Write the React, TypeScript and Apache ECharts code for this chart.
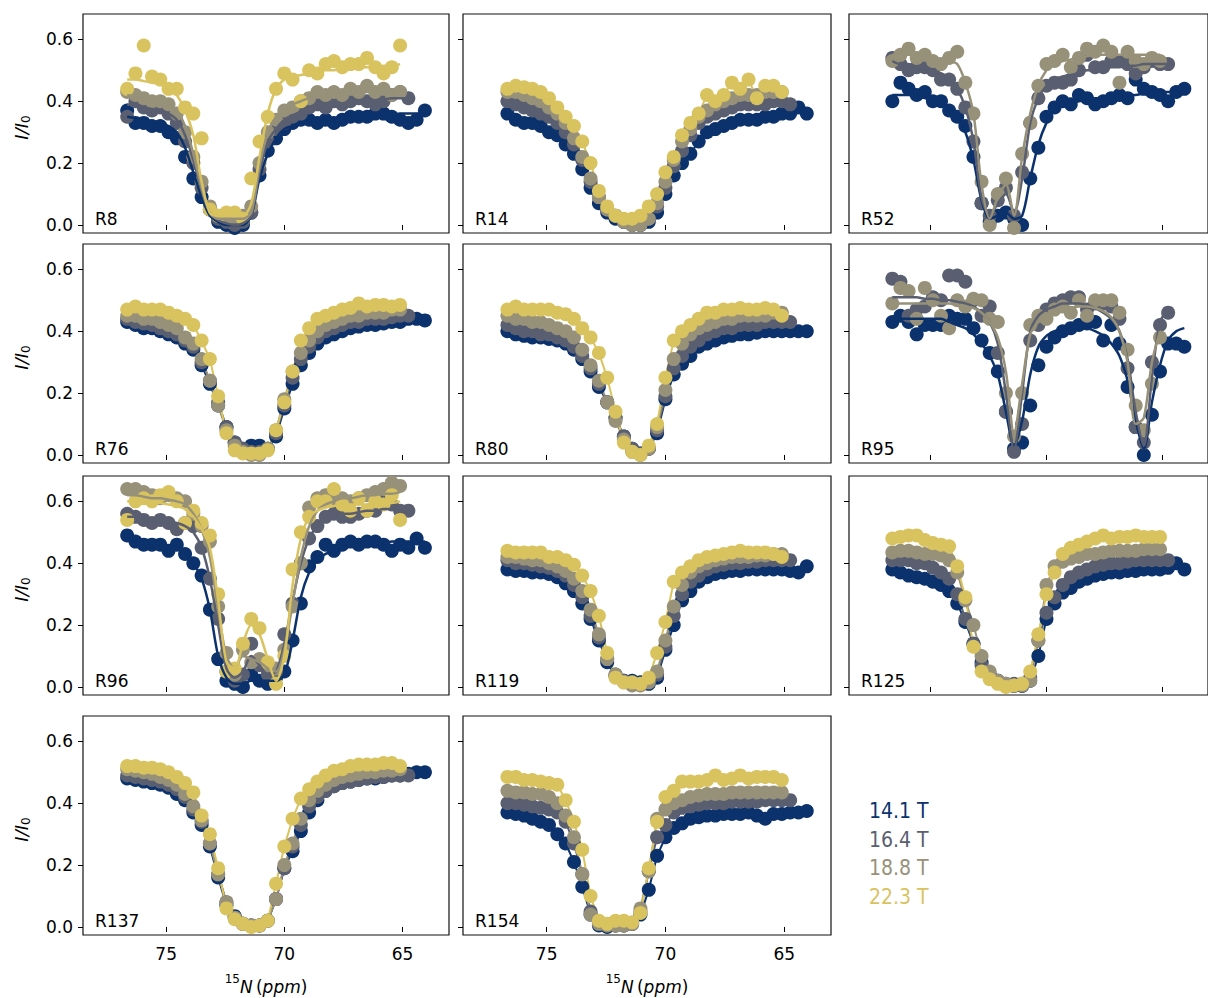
import React, { useEffect, useRef } from "react";
import * as echarts from "echarts";

// ---------- offsets (ppm) at which the CEST profiles were sampled ----------
const GRID_PPM = [76.65, 76.3, 75.95, 75.6, 75.25, 74.9, 74.55, 74.2, 73.85, 73.5, 73.15, 72.8, 72.45, 72.1, 71.75, 71.4, 71.05, 70.7, 70.35, 70.0, 69.65, 69.3, 68.95, 68.6, 68.25, 67.9, 67.55, 67.2, 66.85, 66.5, 66.15, 65.8, 65.45, 65.1, 64.75, 64.4, 64.05];

const FIELDS = ["14.1 T", "16.4 T", "18.8 T", "22.3 T"];
const COLORS = ["#0b326d", "#595f70", "#979179", "#d9c35f"];
const X_TICKS = [65, 70, 75];
const Y_TICKS = [0, 0.2, 0.4, 0.6];

// ---------- R8 ----------
const R8_141 = [0.37, 0.33, 0.33, 0.32, 0.32, 0.3, 0.28, 0.22, 0.15, 0.09, 0.05, 0.01, 0.0, -0.01, 0.0, 0.04, 0.16, 0.24, 0.28, 0.31, 0.33, 0.34, 0.34, 0.33, 0.34, 0.33, 0.34, 0.35, 0.35, 0.35, 0.36, 0.36, 0.35, 0.34, 0.33, 0.34, 0.37];
const R8_164 = [0.35, 0.4, 0.38, 0.37, 0.38, 0.36, 0.33, 0.27, 0.2, 0.12, 0.05, 0.02, 0.01, 0.0, 0.01, 0.04, 0.18, 0.27, 0.31, 0.33, 0.35, 0.36, 0.38, 0.39, 0.38, 0.4, 0.39, 0.4, 0.41, 0.4, 0.39, 0.4, 0.42, 0.43, 0.41];
const R8_188 = [0.43, 0.42, 0.41, 0.4, 0.4, 0.39, 0.36, 0.3, 0.22, 0.14, 0.06, 0.03, 0.02, 0.02, 0.03, 0.06, 0.2, 0.3, 0.34, 0.37, 0.38, 0.4, 0.41, 0.43, 0.42, 0.43, 0.42, 0.44, 0.43, 0.45, 0.43, 0.44, 0.42, 0.43];
const R8_223 = [0.44, 0.49, 0.58, 0.48, 0.47, 0.44, 0.44, 0.38, 0.36, 0.28, 0.05, 0.03, 0.04, 0.04, 0.02, 0.15, 0.27, 0.35, 0.44, 0.49, 0.47, 0.4, 0.5, 0.49, 0.52, 0.53, 0.51, 0.52, 0.52, 0.54, 0.51, 0.49, 0.51, 0.58];
const R8_141_FIT = [0.35, 0.345, 0.34, 0.335, 0.33, 0.32, 0.3, 0.25, 0.17, 0.09, 0.03, 0.01, 0.0, 0.0, 0.0, 0.03, 0.15, 0.23, 0.28, 0.31, 0.32, 0.33, 0.335, 0.34, 0.34, 0.345, 0.345, 0.35, 0.35, 0.35, 0.355, 0.355, 0.355, 0.36, 0.36, 0.36, 0.36];
const R8_164_FIT = [0.39, 0.385, 0.38, 0.375, 0.37, 0.36, 0.34, 0.29, 0.21, 0.11, 0.04, 0.015, 0.005, 0.0, 0.005, 0.03, 0.17, 0.27, 0.31, 0.34, 0.355, 0.365, 0.37, 0.38, 0.385, 0.39, 0.39, 0.395, 0.4, 0.4, 0.4, 0.405, 0.41, 0.41, 0.41];
const R8_188_FIT = [0.42, 0.415, 0.41, 0.405, 0.4, 0.39, 0.37, 0.32, 0.23, 0.12, 0.04, 0.02, 0.02, 0.02, 0.02, 0.04, 0.19, 0.3, 0.35, 0.38, 0.39, 0.4, 0.41, 0.415, 0.42, 0.42, 0.425, 0.43, 0.43, 0.43, 0.43, 0.435, 0.435, 0.44];
const R8_223_FIT = [0.47, 0.47, 0.465, 0.46, 0.455, 0.445, 0.42, 0.37, 0.29, 0.14, 0.04, 0.03, 0.03, 0.03, 0.03, 0.07, 0.22, 0.36, 0.44, 0.47, 0.48, 0.485, 0.49, 0.495, 0.5, 0.5, 0.505, 0.505, 0.51, 0.51, 0.51, 0.515, 0.515, 0.52];

// ---------- R14 ----------
const R14_141 = [0.36, 0.34, 0.33, 0.33, 0.32, 0.3, 0.29, 0.26, 0.23, 0.18, 0.12, 0.07, 0.04, 0.02, 0.01, 0.0, 0.0, 0.01, 0.04, 0.1, 0.16, 0.2, 0.23, 0.27, 0.3, 0.31, 0.32, 0.33, 0.34, 0.34, 0.34, 0.35, 0.35, 0.36, 0.36, 0.38, 0.36];
const R14_164 = [0.4, 0.39, 0.38, 0.37, 0.36, 0.35, 0.33, 0.3, 0.26, 0.21, 0.14, 0.09, 0.05, 0.03, 0.01, 0.0, 0.0, 0.02, 0.06, 0.12, 0.19, 0.24, 0.29, 0.33, 0.35, 0.36, 0.37, 0.38, 0.39, 0.39, 0.39, 0.39, 0.4, 0.4, 0.39];
const R14_188 = [0.43, 0.43, 0.42, 0.41, 0.4, 0.38, 0.36, 0.33, 0.28, 0.22, 0.15, 0.09, 0.05, 0.03, 0.01, 0.0, 0.0, 0.02, 0.07, 0.14, 0.21, 0.27, 0.31, 0.35, 0.37, 0.39, 0.4, 0.41, 0.42, 0.42, 0.42, 0.43, 0.43, 0.43];
const R14_223 = [0.44, 0.45, 0.445, 0.44, 0.43, 0.41, 0.38, 0.35, 0.32, 0.27, 0.2, 0.11, 0.06, 0.03, 0.02, 0.02, 0.03, 0.06, 0.1, 0.17, 0.22, 0.29, 0.33, 0.36, 0.42, 0.4, 0.42, 0.46, 0.44, 0.47, 0.41, 0.45, 0.45, 0.43];

// ---------- R52 ----------
const R52_141 = [0.4, 0.46, 0.44, 0.42, 0.43, 0.4, 0.4, 0.37, 0.35, 0.32, 0.22, 0.07, 0.01, 0.03, 0.04, 0.02, 0.0, 0.15, 0.25, 0.35, 0.38, 0.4, 0.39, 0.42, 0.41, 0.39, 0.4, 0.41, 0.42, 0.41, 0.47, 0.44, 0.43, 0.42, 0.4, 0.43, 0.44];
const R52_164 = [0.54, 0.52, 0.5, 0.51, 0.51, 0.5, 0.47, 0.47, 0.44, 0.38, 0.27, 0.07, 0.03, 0.08, 0.12, 0.03, 0.17, 0.33, 0.41, 0.45, 0.46, 0.46, 0.47, 0.5, 0.55, 0.51, 0.51, 0.53, 0.53, 0.52, 0.49, 0.51, 0.53, 0.52, 0.52];
const R52_188 = [0.53, 0.55, 0.57, 0.54, 0.55, 0.53, 0.52, 0.54, 0.56, 0.46, 0.36, 0.14, 0.0, 0.1, 0.15, -0.01, 0.23, 0.33, 0.45, 0.52, 0.53, 0.55, 0.51, 0.54, 0.57, 0.56, 0.58, 0.56, 0.46, 0.56, 0.53, 0.52, 0.54, 0.53];
const R52_141_FIT = [0.42, 0.42, 0.42, 0.415, 0.41, 0.4, 0.39, 0.37, 0.34, 0.3, 0.21, 0.08, 0.02, 0.03, 0.04, 0.02, 0.03, 0.15, 0.26, 0.33, 0.37, 0.385, 0.395, 0.4, 0.405, 0.41, 0.41, 0.415, 0.42, 0.42, 0.42, 0.425, 0.425, 0.43, 0.43, 0.43, 0.43];
const R52_164_FIT = [0.53, 0.52, 0.52, 0.51, 0.51, 0.5, 0.49, 0.47, 0.44, 0.38, 0.27, 0.09, 0.03, 0.07, 0.1, 0.04, 0.15, 0.33, 0.41, 0.45, 0.47, 0.48, 0.485, 0.49, 0.5, 0.5, 0.505, 0.51, 0.51, 0.515, 0.515, 0.52, 0.52, 0.52, 0.52];
const R52_188_FIT = [0.55, 0.55, 0.55, 0.545, 0.54, 0.54, 0.535, 0.53, 0.52, 0.46, 0.36, 0.13, 0.02, 0.09, 0.13, 0.03, 0.22, 0.36, 0.45, 0.5, 0.52, 0.53, 0.535, 0.54, 0.545, 0.55, 0.55, 0.55, 0.55, 0.55, 0.55, 0.55, 0.55, 0.55];

// ---------- R76 ----------
const R76_141 = [0.43, 0.42, 0.41, 0.41, 0.4, 0.39, 0.38, 0.36, 0.34, 0.29, 0.23, 0.16, 0.09, 0.04, 0.02, 0.03, 0.03, 0.02, 0.06, 0.15, 0.23, 0.29, 0.33, 0.36, 0.38, 0.39, 0.4, 0.41, 0.415, 0.42, 0.42, 0.425, 0.43, 0.43, 0.44, 0.44, 0.435];
const R76_164 = [0.44, 0.43, 0.425, 0.42, 0.41, 0.4, 0.39, 0.37, 0.35, 0.3, 0.24, 0.17, 0.09, 0.04, 0.02, 0.01, 0.01, 0.02, 0.07, 0.16, 0.25, 0.31, 0.35, 0.38, 0.4, 0.41, 0.42, 0.43, 0.43, 0.44, 0.44, 0.44, 0.445, 0.45, 0.45];
const R76_188 = [0.45, 0.45, 0.44, 0.44, 0.43, 0.42, 0.41, 0.38, 0.36, 0.31, 0.24, 0.16, 0.08, 0.03, 0.01, 0.0, 0.0, 0.02, 0.08, 0.18, 0.27, 0.33, 0.37, 0.4, 0.42, 0.43, 0.44, 0.45, 0.45, 0.46, 0.46, 0.46, 0.47, 0.47];
const R76_223 = [0.47, 0.48, 0.47, 0.47, 0.47, 0.46, 0.45, 0.44, 0.42, 0.37, 0.31, 0.19, 0.07, 0.015, 0.005, 0.005, 0.005, 0.015, 0.08, 0.17, 0.27, 0.37, 0.41, 0.44, 0.45, 0.46, 0.47, 0.475, 0.49, 0.48, 0.485, 0.485, 0.48, 0.485];

// ---------- R80 ----------
const R80_141 = [0.4, 0.39, 0.385, 0.38, 0.38, 0.375, 0.37, 0.36, 0.34, 0.31, 0.27, 0.22, 0.17, 0.12, 0.06, 0.02, 0.005, 0.02, 0.07, 0.18, 0.26, 0.295, 0.32, 0.35, 0.36, 0.37, 0.38, 0.385, 0.39, 0.39, 0.395, 0.4, 0.4, 0.4, 0.4, 0.4, 0.4];
const R80_164 = [0.42, 0.41, 0.4, 0.4, 0.39, 0.39, 0.38, 0.37, 0.35, 0.32, 0.28, 0.23, 0.17, 0.12, 0.06, 0.02, 0.005, 0.02, 0.08, 0.19, 0.28, 0.32, 0.35, 0.37, 0.39, 0.4, 0.41, 0.41, 0.42, 0.42, 0.42, 0.43, 0.43, 0.43, 0.43];
const R80_188 = [0.45, 0.44, 0.44, 0.43, 0.43, 0.42, 0.41, 0.4, 0.38, 0.34, 0.29, 0.24, 0.17, 0.11, 0.05, 0.01, 0.0, 0.02, 0.09, 0.21, 0.31, 0.36, 0.39, 0.41, 0.42, 0.43, 0.44, 0.44, 0.45, 0.45, 0.45, 0.45, 0.46, 0.46];
const R80_223 = [0.47, 0.48, 0.47, 0.47, 0.47, 0.47, 0.46, 0.455, 0.44, 0.41, 0.38, 0.33, 0.25, 0.14, 0.04, 0.01, 0.0, 0.03, 0.1, 0.25, 0.37, 0.4, 0.42, 0.44, 0.46, 0.46, 0.47, 0.47, 0.475, 0.47, 0.47, 0.475, 0.47, 0.45];

// ---------- R95 ----------
const R95_141 = [0.43, 0.45, 0.43, 0.39, 0.42, 0.42, 0.42, 0.45, 0.44, 0.44, 0.41, 0.37, 0.33, 0.27, 0.14, 0.02, 0.04, 0.16, 0.29, 0.35, 0.38, 0.4, 0.41, 0.42, 0.425, 0.43, 0.37, 0.42, 0.36, 0.22, 0.09, 0.0, 0.13, 0.27, 0.36, 0.36, 0.35];
const R95_164 = [0.57, 0.56, 0.45, 0.47, 0.48, 0.51, 0.5, 0.58, 0.58, 0.56, 0.5, 0.45, 0.48, 0.33, 0.14, 0.01, 0.1, 0.37, 0.42, 0.47, 0.49, 0.5, 0.51, 0.51, 0.47, 0.49, 0.49, 0.48, 0.44, 0.28, 0.09, 0.04, 0.3, 0.42, 0.46];
const R95_188 = [0.49, 0.54, 0.53, 0.44, 0.54, 0.5, 0.45, 0.41, 0.5, 0.48, 0.505, 0.5, 0.44, 0.43, 0.2, 0.06, 0.2, 0.42, 0.45, 0.44, 0.47, 0.48, 0.46, 0.5, 0.45, 0.5, 0.5, 0.5, 0.46, 0.34, 0.16, 0.08, 0.23, 0.38];
const R95_141_FIT = [0.44, 0.44, 0.44, 0.44, 0.44, 0.44, 0.44, 0.43, 0.42, 0.41, 0.39, 0.36, 0.32, 0.26, 0.14, 0.03, 0.11, 0.26, 0.35, 0.385, 0.4, 0.41, 0.415, 0.415, 0.41, 0.4, 0.385, 0.36, 0.32, 0.24, 0.11, 0.02, 0.17, 0.29, 0.37, 0.4, 0.41];
const R95_164_FIT = [0.51, 0.51, 0.51, 0.51, 0.505, 0.505, 0.5, 0.5, 0.495, 0.49, 0.48, 0.46, 0.43, 0.36, 0.2, 0.02, 0.2, 0.4, 0.45, 0.47, 0.48, 0.49, 0.49, 0.49, 0.485, 0.475, 0.46, 0.44, 0.4, 0.31, 0.14, 0.03, 0.25, 0.43, 0.47];
const R95_188_FIT = [0.49, 0.49, 0.49, 0.49, 0.49, 0.49, 0.49, 0.49, 0.485, 0.48, 0.475, 0.46, 0.43, 0.38, 0.27, 0.07, 0.23, 0.39, 0.43, 0.45, 0.46, 0.47, 0.475, 0.48, 0.48, 0.475, 0.465, 0.445, 0.4, 0.3, 0.1, 0.12, 0.3, 0.4];

// ---------- R96 ----------
const R96_141 = [0.49, 0.47, 0.46, 0.46, 0.46, 0.44, 0.46, 0.43, 0.4, 0.36, 0.25, 0.09, 0.02, 0.01, 0.0, 0.04, 0.02, 0.01, 0.03, 0.05, 0.15, 0.27, 0.39, 0.42, 0.46, 0.44, 0.46, 0.47, 0.46, 0.47, 0.47, 0.46, 0.44, 0.46, 0.45, 0.48, 0.45];
const R96_164 = [0.56, 0.55, 0.54, 0.53, 0.54, 0.53, 0.51, 0.53, 0.52, 0.45, 0.35, 0.22, 0.05, 0.02, 0.04, 0.14, 0.07, 0.04, 0.05, 0.17, 0.27, 0.4, 0.48, 0.52, 0.55, 0.56, 0.55, 0.55, 0.56, 0.57, 0.57, 0.61, 0.59, 0.57, 0.57];
const R96_188 = [0.64, 0.64, 0.63, 0.62, 0.61, 0.62, 0.61, 0.6, 0.56, 0.52, 0.47, 0.26, 0.11, 0.04, 0.12, 0.08, 0.09, 0.07, 0.06, 0.12, 0.26, 0.4, 0.58, 0.61, 0.62, 0.61, 0.61, 0.6, 0.61, 0.62, 0.63, 0.64, 0.66, 0.65];
const R96_223 = [0.54, 0.6, 0.61, 0.6, 0.62, 0.63, 0.6, 0.53, 0.57, 0.53, 0.49, 0.3, 0.05, 0.06, 0.14, 0.22, 0.19, 0.08, 0.01, 0.1, 0.38, 0.5, 0.55, 0.6, 0.6, 0.64, 0.59, 0.57, 0.61, 0.57, 0.6, 0.59, 0.62, 0.54];
const R96_141_FIT = [0.48, 0.475, 0.47, 0.465, 0.46, 0.455, 0.45, 0.43, 0.4, 0.35, 0.25, 0.1, 0.03, 0.01, 0.01, 0.02, 0.02, 0.02, 0.02, 0.04, 0.15, 0.29, 0.37, 0.41, 0.43, 0.44, 0.45, 0.455, 0.46, 0.46, 0.465, 0.465, 0.47, 0.47, 0.47, 0.47, 0.47];
const R96_164_FIT = [0.55, 0.55, 0.545, 0.54, 0.54, 0.535, 0.53, 0.52, 0.5, 0.45, 0.35, 0.2, 0.06, 0.03, 0.05, 0.1, 0.07, 0.04, 0.05, 0.14, 0.28, 0.4, 0.48, 0.52, 0.54, 0.55, 0.56, 0.56, 0.565, 0.57, 0.57, 0.575, 0.575, 0.58, 0.58];
const R96_188_FIT = [0.62, 0.62, 0.615, 0.61, 0.61, 0.605, 0.6, 0.59, 0.56, 0.51, 0.42, 0.25, 0.1, 0.06, 0.1, 0.09, 0.08, 0.06, 0.05, 0.12, 0.27, 0.42, 0.52, 0.57, 0.59, 0.6, 0.61, 0.61, 0.615, 0.62, 0.62, 0.625, 0.625, 0.63];
const R96_223_FIT = [0.6, 0.6, 0.6, 0.6, 0.595, 0.59, 0.585, 0.575, 0.55, 0.51, 0.45, 0.28, 0.08, 0.06, 0.14, 0.2, 0.17, 0.09, 0.02, 0.1, 0.33, 0.48, 0.55, 0.57, 0.58, 0.585, 0.59, 0.59, 0.59, 0.59, 0.595, 0.595, 0.595, 0.6];

// ---------- R119 ----------
const R119_141 = [0.38, 0.375, 0.375, 0.37, 0.37, 0.365, 0.355, 0.335, 0.31, 0.27, 0.22, 0.15, 0.08, 0.035, 0.02, 0.02, 0.015, 0.01, 0.03, 0.12, 0.2, 0.28, 0.31, 0.34, 0.355, 0.365, 0.37, 0.375, 0.375, 0.38, 0.38, 0.38, 0.38, 0.38, 0.375, 0.37, 0.39];
const R119_164 = [0.41, 0.4, 0.4, 0.395, 0.39, 0.385, 0.375, 0.36, 0.33, 0.29, 0.23, 0.16, 0.09, 0.04, 0.02, 0.01, 0.01, 0.02, 0.04, 0.13, 0.23, 0.3, 0.34, 0.36, 0.38, 0.39, 0.395, 0.4, 0.4, 0.405, 0.405, 0.41, 0.41, 0.41, 0.41];
const R119_188 = [0.42, 0.42, 0.415, 0.41, 0.41, 0.4, 0.39, 0.375, 0.35, 0.31, 0.25, 0.17, 0.09, 0.04, 0.015, 0.005, 0.005, 0.015, 0.05, 0.15, 0.26, 0.33, 0.37, 0.39, 0.4, 0.41, 0.415, 0.42, 0.42, 0.42, 0.425, 0.425, 0.43, 0.43];
const R119_223 = [0.44, 0.435, 0.435, 0.435, 0.435, 0.42, 0.42, 0.41, 0.395, 0.36, 0.31, 0.23, 0.11, 0.03, 0.015, 0.015, 0.01, 0.03, 0.11, 0.21, 0.34, 0.37, 0.39, 0.41, 0.42, 0.425, 0.43, 0.435, 0.44, 0.435, 0.435, 0.435, 0.43, 0.42];

// ---------- R125 ----------
const R125_141 = [0.38, 0.37, 0.36, 0.355, 0.35, 0.34, 0.33, 0.31, 0.27, 0.21, 0.14, 0.08, 0.04, 0.02, 0.005, 0.003, 0.003, 0.02, 0.1, 0.22, 0.27, 0.305, 0.32, 0.34, 0.35, 0.36, 0.365, 0.37, 0.37, 0.375, 0.375, 0.38, 0.38, 0.38, 0.385, 0.4, 0.38];
const R125_164 = [0.41, 0.41, 0.41, 0.4, 0.4, 0.385, 0.37, 0.35, 0.3, 0.22, 0.14, 0.07, 0.035, 0.02, 0.01, 0.01, 0.01, 0.03, 0.15, 0.24, 0.29, 0.33, 0.355, 0.37, 0.38, 0.39, 0.395, 0.4, 0.4, 0.405, 0.41, 0.41, 0.41, 0.41, 0.41];
const R125_188 = [0.435, 0.44, 0.44, 0.435, 0.43, 0.43, 0.425, 0.41, 0.37, 0.28, 0.2, 0.1, 0.05, 0.02, 0.01, 0.005, 0.005, 0.02, 0.15, 0.33, 0.39, 0.405, 0.415, 0.42, 0.43, 0.43, 0.435, 0.44, 0.44, 0.44, 0.44, 0.445, 0.445, 0.445];
const R125_223 = [0.48, 0.485, 0.49, 0.49, 0.475, 0.465, 0.46, 0.455, 0.39, 0.29, 0.13, 0.05, 0.025, 0.01, 0.0, 0.005, 0.01, 0.05, 0.17, 0.3, 0.37, 0.43, 0.45, 0.46, 0.47, 0.48, 0.49, 0.48, 0.485, 0.485, 0.49, 0.485, 0.485, 0.485];

// ---------- R137 ----------
const R137_141 = [0.48, 0.475, 0.47, 0.465, 0.46, 0.45, 0.43, 0.41, 0.37, 0.33, 0.26, 0.16, 0.07, 0.035, 0.01, 0.005, 0.005, 0.02, 0.09, 0.19, 0.245, 0.31, 0.37, 0.41, 0.44, 0.455, 0.465, 0.47, 0.475, 0.48, 0.48, 0.485, 0.49, 0.49, 0.495, 0.5, 0.5];
const R137_164 = [0.49, 0.485, 0.48, 0.475, 0.47, 0.46, 0.445, 0.42, 0.38, 0.34, 0.27, 0.17, 0.08, 0.03, 0.01, 0.005, 0.005, 0.02, 0.09, 0.19, 0.26, 0.33, 0.39, 0.42, 0.44, 0.455, 0.465, 0.47, 0.475, 0.48, 0.485, 0.485, 0.49, 0.49, 0.49];
const R137_188 = [0.51, 0.505, 0.5, 0.495, 0.485, 0.475, 0.46, 0.43, 0.39, 0.345, 0.27, 0.17, 0.08, 0.03, 0.01, 0.005, 0.005, 0.02, 0.09, 0.2, 0.27, 0.35, 0.41, 0.44, 0.46, 0.475, 0.485, 0.49, 0.495, 0.5, 0.5, 0.505, 0.505, 0.51];
const R137_223 = [0.52, 0.52, 0.515, 0.515, 0.51, 0.5, 0.485, 0.465, 0.435, 0.36, 0.3, 0.19, 0.06, 0.025, 0.01, 0.0, 0.005, 0.02, 0.14, 0.26, 0.35, 0.415, 0.445, 0.47, 0.49, 0.505, 0.51, 0.52, 0.525, 0.525, 0.525, 0.53, 0.53, 0.52];

// ---------- R154 ----------
const R154_141 = [0.37, 0.365, 0.36, 0.35, 0.34, 0.33, 0.3, 0.27, 0.21, 0.13, 0.04, 0.005, 0.0, 0.005, 0.005, 0.01, 0.04, 0.12, 0.23, 0.29, 0.32, 0.335, 0.35, 0.355, 0.36, 0.36, 0.365, 0.365, 0.365, 0.37, 0.36, 0.35, 0.365, 0.365, 0.37, 0.37, 0.375];
const R154_164 = [0.4, 0.4, 0.395, 0.39, 0.385, 0.38, 0.37, 0.34, 0.27, 0.17, 0.05, 0.01, 0.005, 0.005, 0.005, 0.01, 0.05, 0.18, 0.29, 0.33, 0.37, 0.385, 0.39, 0.395, 0.4, 0.4, 0.4, 0.405, 0.405, 0.405, 0.405, 0.41, 0.41, 0.41, 0.41];
const R154_188 = [0.44, 0.435, 0.435, 0.43, 0.43, 0.42, 0.4, 0.36, 0.29, 0.17, 0.04, 0.01, 0.005, 0.005, 0.005, 0.01, 0.06, 0.18, 0.35, 0.38, 0.4, 0.41, 0.42, 0.425, 0.43, 0.43, 0.43, 0.435, 0.435, 0.435, 0.435, 0.435, 0.435, 0.435];
const R154_223 = [0.485, 0.485, 0.475, 0.475, 0.47, 0.465, 0.46, 0.41, 0.34, 0.25, 0.1, 0.02, 0.01, 0.02, 0.02, 0.015, 0.045, 0.19, 0.34, 0.42, 0.44, 0.47, 0.47, 0.47, 0.475, 0.49, 0.475, 0.48, 0.49, 0.48, 0.485, 0.485, 0.485, 0.475];

type Panel = { label: string; data: (number[] | null)[]; fits: (number[] | null)[] | null };

const PANELS: Panel[] = [
  { label: "R8", data: [R8_141, R8_164, R8_188, R8_223], fits: [R8_141_FIT, R8_164_FIT, R8_188_FIT, R8_223_FIT] },
  { label: "R14", data: [R14_141, R14_164, R14_188, R14_223], fits: null },
  { label: "R52", data: [R52_141, R52_164, R52_188, null], fits: [R52_141_FIT, R52_164_FIT, R52_188_FIT, null] },
  { label: "R76", data: [R76_141, R76_164, R76_188, R76_223], fits: null },
  { label: "R80", data: [R80_141, R80_164, R80_188, R80_223], fits: null },
  { label: "R95", data: [R95_141, R95_164, R95_188, null], fits: [R95_141_FIT, R95_164_FIT, R95_188_FIT, null] },
  { label: "R96", data: [R96_141, R96_164, R96_188, R96_223], fits: [R96_141_FIT, R96_164_FIT, R96_188_FIT, R96_223_FIT] },
  { label: "R119", data: [R119_141, R119_164, R119_188, R119_223], fits: null },
  { label: "R125", data: [R125_141, R125_164, R125_188, R125_223], fits: null },
  { label: "R137", data: [R137_141, R137_164, R137_188, R137_223], fits: null },
  { label: "R154", data: [R154_141, R154_164, R154_188, R154_223], fits: null },
];

// ---------- layout ----------
const COL_LEFT = [83, 463, 849];
const COL_WIDTH = [366, 368, 366];
const ROW_TOP = [14, 244, 476, 716];
const ROW_HEIGHT = 219;
const X_MIN = 63.03;
const X_MAX = 78.52;
const Y_MIN = -0.026;
const Y_MAX = 0.682;
const FONT = '"DejaVu Sans", sans-serif';
const DOT = 14;

function toPoints(vals: number[]) {
  return vals.map((v, k) => [GRID_PPM[k], v]);
}

function buildOption() {
  const grid: any[] = [];
  const xAxis: any[] = [];
  const yAxis: any[] = [];
  const series: any[] = [];
  const graphic: any[] = [];

  PANELS.forEach((p, i) => {
    const col = i % 3;
    const row = Math.floor(i / 3);
    const left = COL_LEFT[col];
    const top = ROW_TOP[row];
    const width = COL_WIDTH[col];
    grid.push({
      left,
      top,
      width,
      height: ROW_HEIGHT,
      show: true,
      borderColor: "#111",
      borderWidth: 1.2,
      backgroundColor: "transparent",
    });
    xAxis.push({
      type: "value",
      gridIndex: i,
      min: X_MIN,
      max: X_MAX,
      inverse: true,
      axisLine: { show: false },
      splitLine: { show: false },
      axisTick: { show: true, length: 5, lineStyle: { color: "#000", width: 1 }, customValues: X_TICKS },
      axisLabel: {
        show: i >= 9,
        customValues: X_TICKS,
        margin: 10,
        fontSize: 17,
        fontFamily: FONT,
        color: "#000",
        formatter: (v: number) => String(v),
      },
    });
    yAxis.push({
      type: "value",
      gridIndex: i,
      min: Y_MIN,
      max: Y_MAX,
      axisLine: { show: false },
      splitLine: { show: false },
      axisTick: { show: true, length: 5, lineStyle: { color: "#000", width: 1 }, customValues: Y_TICKS },
      axisLabel: {
        show: col === 0,
        customValues: Y_TICKS,
        margin: 10,
        fontSize: 17,
        fontFamily: FONT,
        color: "#000",
        formatter: (v: number) => v.toFixed(1),
      },
    });

    p.data.forEach((vals, f) => {
      if (!vals) return;
      const color = COLORS[f];
      if (p.fits) {
        series.push({
          type: "scatter",
          name: FIELDS[f],
          xAxisIndex: i,
          yAxisIndex: i,
          data: toPoints(vals),
          symbol: "circle",
          symbolSize: DOT,
          itemStyle: { color, opacity: 1 },
          silent: true,
        });
        const fit = p.fits[f];
        if (fit) {
          series.push({
            type: "line",
            name: FIELDS[f] + " fit",
            xAxisIndex: i,
            yAxisIndex: i,
            data: toPoints(fit),
            showSymbol: false,
            smooth: 0.3,
            lineStyle: { color, width: 2.5 },
            silent: true,
          });
        }
      } else {
        series.push({
          type: "line",
          name: FIELDS[f],
          xAxisIndex: i,
          yAxisIndex: i,
          data: toPoints(vals),
          symbol: "circle",
          symbolSize: DOT,
          showSymbol: true,
          showAllSymbol: true,
          lineStyle: { color, width: 2 },
          itemStyle: { color, opacity: 1 },
          silent: true,
        });
      }
    });

    graphic.push({
      type: "text",
      x: left + 12,
      y: top + ROW_HEIGHT - 14,
      style: { text: p.label, fontSize: 17, fontFamily: FONT, fill: "#000", align: "left", verticalAlign: "middle" },
      z: 100,
    });
  });

  // y-axis titles
  ROW_TOP.forEach((t) => {
    graphic.push({
      type: "text",
      x: 21,
      y: t + ROW_HEIGHT / 2 + 4,
      rotation: Math.PI / 2,
      style: {
        text: "{i|I/I}{s|0}",
        align: "center",
        verticalAlign: "middle",
        fill: "#000",
        rich: {
          i: { fontSize: 18, fontStyle: "italic", fontFamily: FONT, fill: "#000", verticalAlign: "middle", lineHeight: 22 },
          s: { fontSize: 12, fontFamily: FONT, fill: "#000", verticalAlign: "bottom", lineHeight: 22 },
        },
      },
    });
  });

  // x-axis titles
  [0, 1].forEach((c) => {
    graphic.push({
      type: "text",
      x: COL_LEFT[c] + COL_WIDTH[c] / 2,
      y: 984,
      style: {
        text: "{s|15}{i|N} {n|(}{i|ppm}{n|)}",
        align: "center",
        verticalAlign: "middle",
        fill: "#000",
        rich: {
          s: { fontSize: 12, fontFamily: FONT, fill: "#000", verticalAlign: "top", lineHeight: 22 },
          i: { fontSize: 17, fontStyle: "italic", fontFamily: FONT, fill: "#000", verticalAlign: "bottom", lineHeight: 22 },
          n: { fontSize: 17, fontFamily: FONT, fill: "#000", verticalAlign: "bottom", lineHeight: 22 },
        },
      },
    });
  });

  // field legend
  FIELDS.forEach((name, f) => {
    graphic.push({
      type: "text",
      x: 869,
      y: 811 + f * 28.7,
      style: {
        text: name,
        fontSize: 21,
        fontFamily: '"Liberation Sans Narrow", "DejaVu Sans Condensed", "Open Sans", sans-serif',
        fill: COLORS[f],
        align: "left",
        verticalAlign: "middle",
      },
    });
  });

  return {
    animation: false,
    backgroundColor: "#fff",
    grid,
    xAxis,
    yAxis,
    series,
    graphic,
  };
}

export default function App() {
  const ref = useRef<HTMLDivElement>(null);
  useEffect(() => {
    if (!ref.current) return;
    const chart = echarts.init(ref.current, null, { renderer: "svg" });
    chart.setOption(buildOption());
    return () => chart.dispose();
  }, []);
  return (
    <div
      ref={ref}
      style={{ position: "absolute", left: 0, top: 0, width: 1208, height: 998, overflow: "hidden", background: "#fff" }}
    />
  );
}
